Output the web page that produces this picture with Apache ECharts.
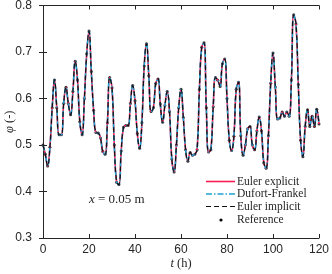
<!DOCTYPE html>
<html>
<head>
<meta charset="utf-8">
<script src="https://cdn.jsdelivr.net/npm/echarts@6/dist/echarts.min.js"></script>
<style>html,body{margin:0;padding:0;background:#fff}#c{width:332px;height:274px}</style>
</head>
<body>
<div id="c"></div>
<script>
// time step (h) of the samples below; sample i is at t = i * STEP
const STEP = 1;
const phiValues = [
0.50,0.48,0.455,0.495,0.58,0.64,0.58,0.522,0.522,0.59,
0.624,0.589,0.565,0.615,0.68,0.64,0.55,0.522,0.60,0.696,
0.745,0.658,0.575,0.527,0.526,0.515,0.486,0.48,0.548,0.645,
0.623,0.50,0.42,0.415,0.487,0.538,0.542,0.542,0.589,0.628,
0.595,0.525,0.493,0.548,0.67,0.718,0.649,0.572,0.58,0.632,
0.642,0.588,0.549,0.585,0.615,0.572,0.47,0.442,0.50,0.58,
0.62,0.559,0.49,0.465,0.484,0.478,0.48,0.49,0.62,0.71,
0.72,0.58,0.485,0.49,0.582,0.645,0.639,0.626,0.675,0.685,
0.60,0.51,0.488,0.519,0.62,0.635,0.52,0.478,0.50,0.535,
0.54,0.50,0.49,0.53,0.56,0.53,0.462,0.45,0.52,0.633,
0.698,0.625,0.556,0.558,0.571,0.562,0.571,0.562,0.64,0.78,
0.76,0.63,0.51,0.475,0.54,0.576,0.54,0.562,0.54,0.577,
0.545
];
const xTicks = [0, 20, 40, 60, 80, 100, 120];
const yTicks = [0.3, 0.4, 0.5, 0.6, 0.7, 0.8];
const seriesNames = ['Euler explicit', 'Dufort-Frankel', 'Euler implicit', 'Reference'];

const pts = phiValues.map((v, i) => [i * STEP, v]);
const serif = 'Liberation Serif';
const sans = 'Liberation Sans';
const RED = '#fa1d55', CYAN = '#1ca2d2', BLK = '#111';
const DASHDOT = [6, 2, 1.5, 2], DASH = [5, 3];

const chart = echarts.init(document.getElementById('c'), null, {renderer: 'canvas'});
const axisCommon = {
  axisLine: {show: true, lineStyle: {color: '#262626', width: 1}},
  axisTick: {show: true, inside: true, length: 4, lineStyle: {color: '#262626'}},
  splitLine: {show: false}
};

// hand-drawn legend (line samples + labels)
const legendRows = [
  {y: 181.5, line: {stroke: RED, lineWidth: 1.6}},
  {y: 194, line: {stroke: CYAN, lineWidth: 1.6, lineDash: DASHDOT}},
  {y: 206.5, line: {stroke: BLK, lineWidth: 1.2, lineDash: DASH}},
  {y: 220, dot: true}
];
const legendGraphics = [];
legendRows.forEach((r, k) => {
  if (r.dot) {
    legendGraphics.push({type: 'circle', shape: {cx: 221, cy: r.y, r: 1.6}, style: {fill: '#000'}});
  } else {
    legendGraphics.push({type: 'line', shape: {x1: 206, y1: r.y, x2: 235, y2: r.y}, style: r.line});
  }
  legendGraphics.push({type: 'text', x: 237, y: r.y, style: {text: seriesNames[k], fontFamily: serif,
    fontSize: 11.5, fill: '#262626', verticalAlign: 'middle', align: 'left'}});
});

chart.setOption({
  animation: false,
  backgroundColor: '#fff',
  grid: {left: 43, right: 13, top: 5.5, bottom: 36, containLabel: false, outerBoundsMode: 'none'},
  xAxis: [
    Object.assign({type: 'value', min: xTicks[0], max: xTicks[xTicks.length-1], interval: 20,
      name: '{i|t} (h)', nameLocation: 'middle', nameGap: 19, nameMoveOverlap: false,
      nameTextStyle: {fontFamily: serif, fontSize: 12.5, color: '#262626',
        rich: {i: {fontFamily: serif, fontStyle: 'italic', fontSize: 12.5, color: '#262626'}}},
      axisLabel: {fontFamily: sans, fontSize: 12, color: '#262626', margin: 6}}, axisCommon),
    Object.assign({type: 'value', position: 'top', min: xTicks[0], max: xTicks[xTicks.length-1], interval: 20,
      axisLabel: {show: false}}, axisCommon)
  ],
  yAxis: [
    Object.assign({type: 'value', min: yTicks[0], max: yTicks[yTicks.length-1], interval: 0.1,
      name: '{i|φ} (-)', nameLocation: 'middle', nameGap: 27, nameRotate: 90, nameMoveOverlap: false,
      nameTextStyle: {fontFamily: serif, fontSize: 12.5, color: '#262626',
        rich: {i: {fontFamily: serif, fontStyle: 'italic', fontSize: 12.5, color: '#262626'}}},
      axisLabel: {fontFamily: sans, fontSize: 12, color: '#262626', margin: 11,
        formatter: v => v.toFixed(1)}}, axisCommon),
    Object.assign({type: 'value', position: 'right', min: yTicks[0], max: yTicks[yTicks.length-1], interval: 0.1,
      axisLabel: {show: false}}, axisCommon)
  ],
  graphic: [{
    type: 'text', left: 89, top: 193,
    style: {text: '{i|x} = 0.05 m', fontFamily: serif, fontSize: 13, fill: '#262626',
      rich: {i: {fontFamily: serif, fontStyle: 'italic', fontSize: 13, fill: '#262626'}}}
  }].concat(legendGraphics),
  series: [
    {name: seriesNames[0], type: 'line', data: pts, smooth: 0.45, symbol: 'none',
     lineStyle: {color: RED, width: 1.6}},
    {name: seriesNames[1], type: 'line', data: pts, smooth: 0.45, symbol: 'none',
     lineStyle: {color: CYAN, width: 1.6, type: DASHDOT}},
    {name: seriesNames[2], type: 'line', data: pts, smooth: 0.45, symbol: 'none',
     lineStyle: {color: BLK, width: 1.2, type: DASH}},
    {name: seriesNames[3], type: 'scatter', data: pts, symbol: 'circle', symbolSize: 3,
     itemStyle: {color: '#000'}}
  ]
});
</script>
</body>
</html>
